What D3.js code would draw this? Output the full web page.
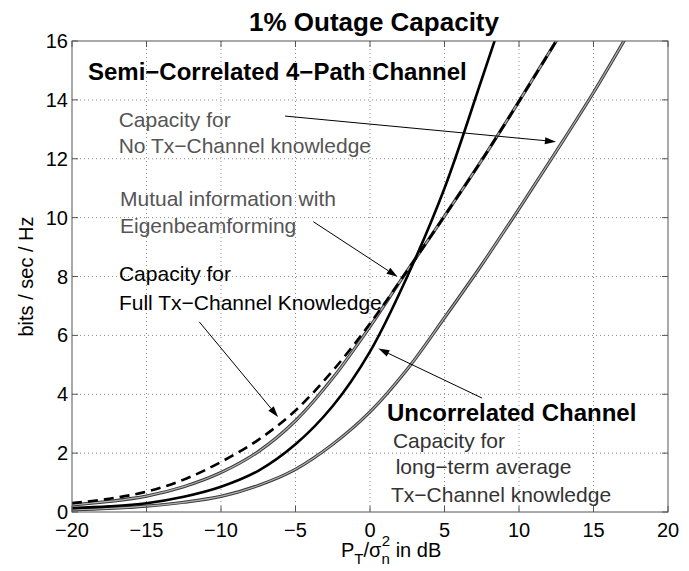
<!DOCTYPE html>
<html lang="en">
<head>
<meta charset="UTF-8">
<title>1% Outage Capacity</title>
<script src="https://d3js.org/d3.v7.min.js"></script>
<style>
  body { margin: 0; background: #fff; }
  svg { display: block; font-family: "Liberation Sans", Arial, Helvetica, sans-serif; }
  .grid line { stroke: #8a8a8a; stroke-dasharray: 1,3; }
  .tick-label { font-size: 20px; fill: #000; }
  .note { font-size: 21px; }
  .bold { font-size: 24px; font-weight: bold; fill: #000; }
</style>
</head>
<body>
<svg width="689" height="571"></svg>
<script>
// SNR grid in dB (x values shared by all curves)
const snr = [-20, -17.5, -15, -12.5, -10, -7.5, -5, -2.5, 0, 2.5, 5, 7.5, 10, 12.5, 15, 17.5];

// semi-correlated, full Tx-channel knowledge (dashed)
const fullCsiSemi = [0.3, 0.45, 0.69, 1.1, 1.7, 2.45, 3.45, 4.8, 6.4, 8.2, 10.05, 11.95, 13.95, 16.0, 18.1];
// semi-correlated, eigenbeamforming mutual information (grey)
const eigenSemi = [0.24, 0.36, 0.54, 0.86, 1.34, 2.05, 3.1, 4.55, 6.3, 8.2, 10.05, 11.95, 13.95, 16.0, 18.1];
// uncorrelated, capacity (thick black)
const fullCsiUncorr = [0.13, 0.19, 0.3, 0.52, 0.86, 1.4, 2.3, 3.6, 5.45, 8.0, 11.0, 14.7, 18.5];
// uncorrelated, long-term average Tx knowledge (grey)
const avgCsiUncorr = [0.07, 0.12, 0.2, 0.33, 0.53, 0.9, 1.45, 2.3, 3.4, 4.85, 6.6, 8.4, 10.3, 12.25, 14.25, 16.4];

const xTicks = [-20, -15, -10, -5, 0, 5, 10, 15, 20];
const yTicks = [0, 2, 4, 6, 8, 10, 12, 14, 16];

const svgWidth = 689;
const svgHeight = 571;
const margin = {top: 41, right: 21, bottom: 59, left: 72};
const width = svgWidth - margin.left - margin.right;
const height = svgHeight - margin.top - margin.bottom;

const svg = d3.select("svg")
    .attr("width", svgWidth)
    .attr("height", svgHeight);

svg.append("rect").attr("width", svgWidth).attr("height", svgHeight).attr("fill", "#fff");

const g = svg.append("g")
    .attr("transform", `translate(${margin.left}, ${margin.top})`);

const x = d3.scaleLinear().domain([-20, 20]).range([0, width]);
const y = d3.scaleLinear().domain([0, 16]).range([height, 0]);

const fmt = d => (d < 0 ? "\u2212" + Math.abs(d) : String(d));

// dotted grid
const grid = g.append("g").attr("class", "grid");
grid.selectAll(".gx")
    .data(xTicks.slice(1, -1))
    .enter().append("line")
    .attr("x1", d => x(d)).attr("x2", d => x(d))
    .attr("y1", 0).attr("y2", height);
grid.selectAll(".gy")
    .data(yTicks.slice(1, -1))
    .enter().append("line")
    .attr("x1", 0).attr("x2", width)
    .attr("y1", d => y(d)).attr("y2", d => y(d));

// curves
g.append("clipPath").attr("id", "plot-clip")
    .append("rect").attr("width", width).attr("height", height);

const line = d3.line()
    .x(d => x(d[0]))
    .y(d => y(d[1]))
    .curve(d3.curveCatmullRom.alpha(0.5));

const pts = vals => vals.map((v, i) => [snr[i], v]);

const curves = g.append("g").attr("clip-path", "url(#plot-clip)");

function greyCurve(vals) {
    curves.append("path").attr("d", line(pts(vals)))
        .attr("fill", "none").attr("stroke", "#3a3a3a").attr("stroke-width", 3.2);
    curves.append("path").attr("d", line(pts(vals)))
        .attr("fill", "none").attr("stroke", "#b0b0b0").attr("stroke-width", 1.2);
}

greyCurve(avgCsiUncorr);
greyCurve(eigenSemi);

curves.append("path").attr("d", line(pts(fullCsiUncorr)))
    .attr("fill", "none").attr("stroke", "#000").attr("stroke-width", 2.6);

curves.append("path").attr("d", line(pts(fullCsiSemi)))
    .attr("fill", "none").attr("stroke", "#000").attr("stroke-width", 2.6)
    .attr("stroke-dasharray", "10,6");

// axes box and inward ticks
g.append("rect").attr("width", width).attr("height", height)
    .attr("fill", "none").attr("stroke", "#555").attr("stroke-width", 1);

const tickLen = 6;
const ticks = g.append("g").attr("stroke", "#555").attr("stroke-width", 1);
xTicks.forEach(d => {
    ticks.append("line").attr("x1", x(d)).attr("x2", x(d)).attr("y1", height).attr("y2", height - tickLen);
    ticks.append("line").attr("x1", x(d)).attr("x2", x(d)).attr("y1", 0).attr("y2", tickLen);
});
yTicks.forEach(d => {
    ticks.append("line").attr("x1", 0).attr("x2", tickLen).attr("y1", y(d)).attr("y2", y(d));
    ticks.append("line").attr("x1", width).attr("x2", width - tickLen).attr("y1", y(d)).attr("y2", y(d));
});

g.selectAll(".xl")
    .data(xTicks)
    .enter().append("text")
    .attr("class", "tick-label")
    .attr("x", d => x(d))
    .attr("y", height + 25)
    .attr("text-anchor", "middle")
    .text(fmt);

g.selectAll(".yl")
    .data(yTicks)
    .enter().append("text")
    .attr("class", "tick-label")
    .attr("x", -4)
    .attr("y", d => y(d) + 7)
    .attr("text-anchor", "end")
    .text(fmt);

// title and axis labels
svg.append("text")
    .attr("x", 374).attr("y", 31)
    .attr("text-anchor", "middle")
    .style("font-size", "26px").style("font-weight", "bold")
    .text("1% Outage Capacity");

svg.append("text")
    .attr("transform", `translate(33, ${margin.top + height / 2}) rotate(-90)`)
    .attr("text-anchor", "middle")
    .style("font-size", "20px")
    .text("bits / sec / Hz");

const xlab = svg.append("text")
    .attr("x", 341).attr("y", 557)
    .style("font-size", "20px");
xlab.append("tspan").text("P");
xlab.append("tspan").attr("dy", 7).style("font-size", "15px").text("T");
xlab.append("tspan").attr("dy", -7).text("/\u03c3");
xlab.append("tspan").attr("dy", 7).style("font-size", "15px").text("n");
xlab.append("tspan").attr("dx", -8).attr("dy", -18).style("font-size", "15px").text("2");
xlab.append("tspan").attr("dy", 11).text(" in dB");

// annotations (positions in data units)
const notes = [
    {x: -18.93, y: 14.69, cls: "bold", color: "#000", text: "Semi\u2212Correlated 4\u2212Path Channel"},
    {x: -16.87, y: 13.08, cls: "note", color: "#555", text: "Capacity for"},
    {x: -16.87, y: 12.19, cls: "note", color: "#555", text: "No Tx\u2212Channel knowledge"},
    {x: -16.78, y: 10.39, cls: "note", color: "#555", text: "Mutual information with"},
    {x: -16.78, y: 9.48, cls: "note", color: "#555", text: "Eigenbeamforming"},
    {x: -16.85, y: 7.85, cls: "note", color: "#000", text: "Capacity for"},
    {x: -16.85, y: 6.86, cls: "note", color: "#000", text: "Full Tx\u2212Channel Knowledge"},
    {x: 1.14, y: 3.09, cls: "bold", color: "#000", text: "Uncorrelated Channel"},
    {x: 1.54, y: 2.16, cls: "note", color: "#333", text: "Capacity for"},
    {x: 1.72, y: 1.28, cls: "note", color: "#333", text: "long\u2212term average"},
    {x: 1.41, y: 0.35, cls: "note", color: "#333", text: "Tx\u2212Channel knowledge"}
];

g.selectAll(".note-text")
    .data(notes)
    .enter().append("text")
    .attr("class", d => d.cls)
    .attr("x", d => x(d.x))
    .attr("y", d => y(d.y))
    .style("fill", d => d.color)
    .text(d => d.text);

const arrows = [
    {x1: -5.7, y1: 13.45, x2: 12.48, y2: 12.58},
    {x1: -3.8, y1: 9.86, x2: 1.85, y2: 7.99},
    {x1: -11.46, y1: 6.46, x2: -6.17, y2: 3.23},
    {x1: 7.52, y1: 3.87, x2: 0.56, y2: 5.55}
];

arrows.forEach(a => {
    const x1 = x(a.x1), y1 = y(a.y1), x2 = x(a.x2), y2 = y(a.y2);
    const ang = Math.atan2(y2 - y1, x2 - x1);
    const len = 11, half = 3.5;
    const bx = x2 - len * Math.cos(ang), by = y2 - len * Math.sin(ang);
    g.append("line")
        .attr("x1", x1).attr("y1", y1).attr("x2", bx).attr("y2", by)
        .attr("stroke", "#000").attr("stroke-width", 1);
    g.append("path")
        .attr("d", `M${x2},${y2}L${bx - half * Math.sin(ang)},${by + half * Math.cos(ang)}L${bx + half * Math.sin(ang)},${by - half * Math.cos(ang)}Z`)
        .attr("fill", "#000");
});
</script>
</body>
</html>
